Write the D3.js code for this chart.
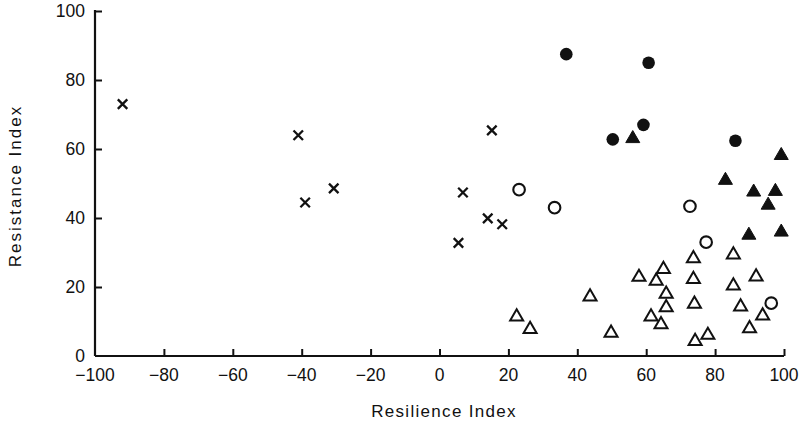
<!DOCTYPE html>
<html>
<head>
<meta charset="utf-8">
<script src="https://cdn.jsdelivr.net/npm/d3@7"></script>
<style>
html, body { margin: 0; padding: 0; background: #fff; }
svg { display: block; }
text { font-family: "Liberation Sans", Arial, sans-serif; fill: #111; }
</style>
</head>
<body>
<svg id="chart" width="802" height="434"></svg>
<script>
// ---- data ----
const xTicks = [-100, -80, -60, -40, -20, 0, 20, 40, 60, 80, 100];
const yTicks = [0, 20, 40, 60, 80, 100];
const xLabel = "Resilience Index";
const yLabel = "Resistance Index";

const crosses = [
  [-92, 73], [-41, 64], [-39, 44.5], [-30.7, 48.6], [15.2, 65.4],
  [6.8, 47.4], [14, 39.9], [18.2, 38.2], [5.5, 32.8]
];
const openCircles = [
  [23.1, 48.2], [33.4, 43], [72.7, 43.4], [77.4, 33], [96.3, 15.3]
];
const filledCircles = [
  [36.8, 87.5], [60.7, 85], [59.2, 67], [50.3, 62.8], [85.9, 62.4]
];
const filledTriangles = [
  [56.1, 63.6], [99.2, 58.7], [83, 51.5], [91.2, 48.1], [97.5, 48.3],
  [95.4, 44.3], [89.8, 35.6], [99.2, 36.5]
];
const openTriangles = [
  [22.4, 11.9], [26.3, 8.3], [43.7, 17.7], [49.8, 7.2], [57.9, 23.4],
  [62.9, 22.3], [65, 25.7], [65.8, 18.5], [65.8, 14.6], [61.4, 11.9],
  [64.3, 9.7], [73.7, 28.8], [73.7, 22.8], [74, 15.6], [74.2, 4.8],
  [77.9, 6.6], [85.3, 29.9], [85.3, 20.9], [91.9, 23.5], [87.4, 14.8],
  [90, 8.5], [93.8, 12.2]
];

// ---- layout ----
const svg = d3.select("#chart");
const x = d3.scaleLinear().domain([-100, 100]).range([95, 784]);
const y = d3.scaleLinear().domain([0, 100]).range([356, 11]);
const ink = "#111";

// axes
const xAxis = svg.append("g").attr("transform", `translate(0,${y(0)})`)
  .call(d3.axisTop(x).tickValues(xTicks).tickSize(7).tickFormat(""));
const yAxis = svg.append("g").attr("transform", `translate(${x(-100)},0)`)
  .call(d3.axisRight(y).tickValues(yTicks).tickSize(7).tickFormat(""));
[xAxis, yAxis].forEach(g => {
  g.select(".domain").remove();
  g.selectAll(".tick line").attr("stroke", ink).attr("stroke-width", 2);
});
svg.append("line").attr("x1", x(-100)).attr("x2", x(100)).attr("y1", y(0)).attr("y2", y(0))
  .attr("stroke", ink).attr("stroke-width", 2.2);
svg.append("line").attr("x1", x(-100)).attr("x2", x(-100)).attr("y1", y(0)).attr("y2", y(100) - 1)
  .attr("stroke", ink).attr("stroke-width", 2.2);
xAxis.select(".tick:first-of-type line").remove();
yAxis.select(".tick:first-of-type line").remove();

// tick labels
svg.append("g").selectAll("text").data(xTicks).join("text")
  .attr("x", d => x(d)).attr("y", 381)
  .attr("text-anchor", "middle").attr("font-size", 17.5)
  .text(d => d < 0 ? "\u2212" + Math.abs(d) : String(d));
svg.append("g").selectAll("text").data(yTicks).join("text")
  .attr("x", 85).attr("y", d => y(d) + 6)
  .attr("text-anchor", "end").attr("font-size", 17.5)
  .text(d => String(d));

// axis titles
svg.append("text").attr("x", 444).attr("y", 417).attr("text-anchor", "middle")
  .attr("font-size", 17).attr("letter-spacing", 1.3).text(xLabel);
svg.append("text").attr("transform", "translate(21,186) rotate(-90)")
  .attr("text-anchor", "middle").attr("font-size", 17).attr("letter-spacing", 2).text(yLabel);

// symbols
const tri = {
  draw(ctx, size) {
    const w = Math.sqrt(size), h = w * 0.86;
    ctx.moveTo(0, -h / 2);
    ctx.lineTo(w / 2, h / 2);
    ctx.lineTo(-w / 2, h / 2);
    ctx.closePath();
  }
};
const cross = {
  draw(ctx, size) {
    const r = Math.sqrt(size) / 2;
    ctx.moveTo(-r, -r); ctx.lineTo(r, r);
    ctx.moveTo(r, -r); ctx.lineTo(-r, r);
  }
};

const marks = svg.append("g");
marks.selectAll(".cr").data(crosses).join("path").attr("class", "cr")
  .attr("transform", d => `translate(${x(d[0])},${y(d[1])})`)
  .attr("d", d3.symbol(cross, 90)())
  .attr("fill", "none").attr("stroke", ink).attr("stroke-width", 2.3);
marks.selectAll(".oc").data(openCircles).join("circle").attr("class", "oc")
  .attr("cx", d => x(d[0])).attr("cy", d => y(d[1])).attr("r", 5.8)
  .attr("fill", "none").attr("stroke", ink).attr("stroke-width", 2.1);
marks.selectAll(".fc").data(filledCircles).join("circle").attr("class", "fc")
  .attr("cx", d => x(d[0])).attr("cy", d => y(d[1])).attr("r", 6.3)
  .attr("fill", ink);
marks.selectAll(".ft").data(filledTriangles).join("path").attr("class", "ft")
  .attr("transform", d => `translate(${x(d[0])},${y(d[1])})`)
  .attr("d", d3.symbol(tri, 196)())
  .attr("fill", ink).attr("stroke", ink).attr("stroke-width", 1);
marks.selectAll(".ot").data(openTriangles).join("path").attr("class", "ot")
  .attr("transform", d => `translate(${x(d[0])},${y(d[1])})`)
  .attr("d", d3.symbol(tri, 169)())
  .attr("fill", "none").attr("stroke", ink).attr("stroke-width", 2)
  .attr("stroke-linejoin", "miter");
</script>
</body>
</html>
